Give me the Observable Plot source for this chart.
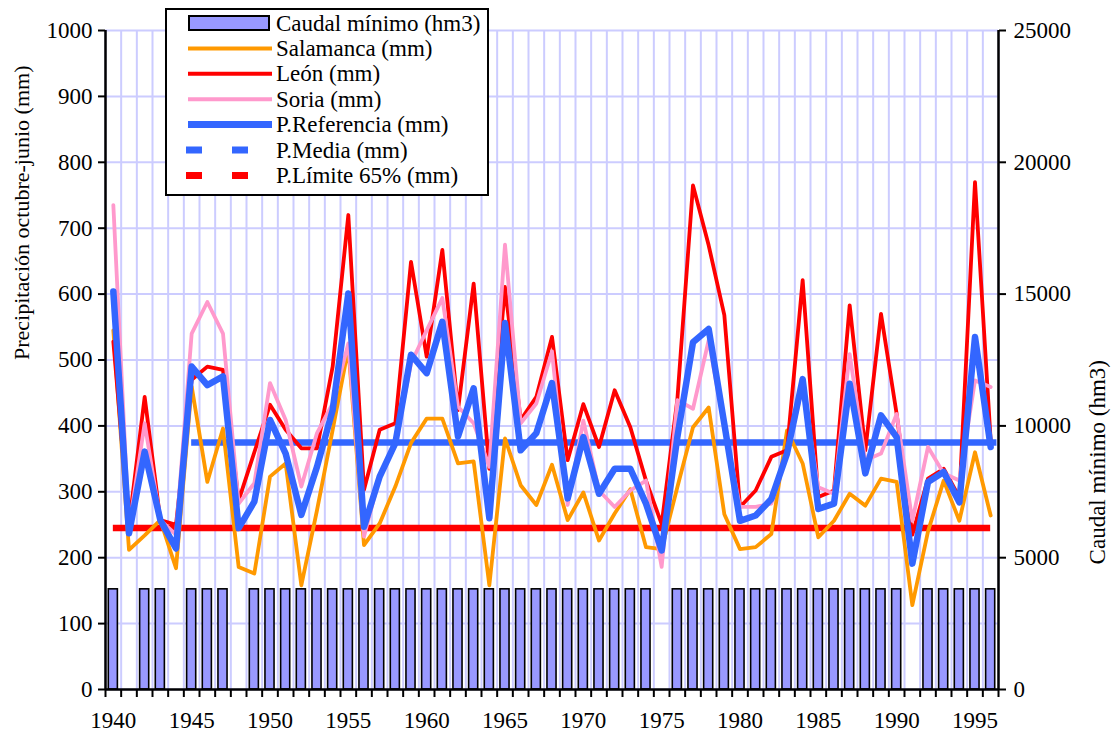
<!DOCTYPE html>
<html>
<head>
<meta charset="utf-8">
<script src="https://cdn.jsdelivr.net/npm/d3@7"></script>
<script src="https://cdn.jsdelivr.net/npm/@observablehq/plot@0.6"></script>
<style>
  html, body { margin: 0; padding: 0; background: white; }
  #wrap { position: relative; width: 1111px; height: 738px; font-family: 'Liberation Serif', 'DejaVu Serif', serif; }
  #wrap svg text { font-family: 'Liberation Serif', 'DejaVu Serif', serif; }
  #legend { position: absolute; left: 165px; top: 8px; width: 320px; height: 184px; border: 2.5px solid black; background: white; }
</style>
</head>
<body>
<div id="wrap"><div id="legend"></div></div>
<script>
const years = d3.range(1940, 1997);
const salamanca = [545,212,234,257,184,460,315,396,186,176,323,343,158,272,394,518,219,252,308,374,411,411,343,346,158,381,310,280,341,257,299,226,267,304,216,213,307,398,428,266,213,216,236,393,343,231,256,297,279,320,315,128,240,317,256,360,264];
const leon = [528,250,444,257,250,470,490,485,287,360,432,394,366,366,490,720,303,394,404,649,505,667,424,616,335,611,409,444,535,348,433,368,454,398,317,251,440,765,674,568,277,302,353,363,621,292,302,583,363,570,418,235,320,335,292,770,378];
const soria = [735,245,404,257,235,540,588,540,282,313,465,409,308,389,434,525,232,323,374,495,545,594,429,404,338,675,404,434,513,280,408,302,277,302,317,186,439,426,530,398,277,277,282,358,460,307,297,509,348,358,418,256,368,328,317,469,459];
const referencia = [604,237,361,257,214,490,462,475,245,285,409,358,265,338,424,601,247,323,374,508,480,558,384,457,260,556,363,389,465,290,383,297,335,335,282,211,383,527,547,403,256,264,289,358,471,274,282,464,328,416,383,191,315,330,284,535,368];
const caudal = [3800,0,3800,3800,0,3800,3800,3800,0,3800,3800,3800,3800,3800,3800,3800,3800,3800,3800,3800,3800,3800,3800,3800,3800,3800,3800,3800,3800,3800,3800,3800,3800,3800,3800,0,3800,3800,3800,3800,3800,3800,3800,3800,3800,3800,3800,3800,3800,3800,3800,0,3800,3800,3800,3800,3800];
const mediaYears = [1945, 1996];
const mediaValue = 375;
const limiteYears = [1940, 1996];
const limiteValue = 245;
const leftTicks = d3.range(0, 1001, 100);
const rightTicks = d3.range(0, 1001, 200);
const xLabelYears = d3.range(1940, 1996, 5);
const ratio = 25; // hm3 per mm on the secondary axis

const rows = years.map((year, i) => ({
  year, salamanca: salamanca[i], leon: leon[i], soria: soria[i], referencia: referencia[i], caudal: caudal[i]
}));
const bars = rows.filter(d => d.caudal > 0);
const boundaries = d3.range(years[0] - 0.5, years[years.length - 1] + 1, 1);
const FONT = "'Liberation Serif', 'DejaVu Serif', serif";

const chart = Plot.plot({
  width: 1111,
  height: 738,
  marginLeft: 105,
  marginRight: 113,
  marginTop: 30,
  marginBottom: 49,
  style: { fontFamily: FONT, fontSize: "23px", color: "black", background: "white" },
  x: { type: "linear", domain: [years[0] - 0.5, years[years.length - 1] + 0.5] },
  y: { domain: [0, 1000] },
  marks: [
    Plot.gridX(boundaries, { stroke: "#ccccff", strokeOpacity: 1, strokeWidth: 2 }),
    Plot.gridY(leftTicks, { stroke: "#ccccff", strokeOpacity: 1, strokeWidth: 2 }),
    Plot.rectY(bars, { x1: d => d.year - 0.29, x2: d => d.year + 0.29, y1: 0, y2: d => d.caudal / ratio, fill: "#9999ff", stroke: "black", strokeWidth: 1.6 }),
    Plot.ruleY([limiteValue], { x1: limiteYears[0], x2: limiteYears[1], stroke: "#ff0000", strokeWidth: 6.5 }),
    Plot.ruleY([mediaValue], { x1: mediaYears[0], x2: mediaYears[1] + 0.4, stroke: "#3366ff", strokeWidth: 6.5 }),
    Plot.line(rows, { x: "year", y: "salamanca", stroke: "#ff9900", strokeWidth: 3.8 }),
    Plot.line(rows, { x: "year", y: "leon", stroke: "#ff0000", strokeWidth: 3.8 }),
    Plot.line(rows, { x: "year", y: "soria", stroke: "#ff99cc", strokeWidth: 3.8 }),
    Plot.line(rows, { x: "year", y: "referencia", stroke: "#3366ff", strokeWidth: 6.5 }),
    Plot.ruleX([boundaries[0], boundaries[boundaries.length - 1]], { stroke: "black", strokeWidth: 2.5 }),
    Plot.ruleY([0], { stroke: "black", strokeWidth: 2.5 }),
    Plot.axisY({ anchor: "left", ticks: leftTicks, tickSize: 7, tickPadding: 6, strokeWidth: 2, label: null, fontFamily: FONT, tickFormat: d => String(d) }),
    Plot.axisY({ anchor: "right", ticks: rightTicks, tickSize: 7, tickPadding: 8, strokeWidth: 2, label: null, fontFamily: FONT, tickFormat: d => String(d * ratio) }),
    Plot.axisX({ ticks: boundaries, tickSize: 8, strokeWidth: 2, tickFormat: () => "", label: null }),
    Plot.axisX({ ticks: xLabelYears, tickSize: 0, tickPadding: 22, label: null, fontFamily: FONT, tickFormat: d => String(d) }),
    Plot.text(["Precipitación octubre-junio (mm)"], { frameAnchor: "left", rotate: -90, dx: -84, fontSize: 22, fontFamily: FONT, fill: "black" }),
    Plot.text(["Caudal mínimo (hm3)"], { frameAnchor: "right", rotate: -90, dx: 99, dy: 0, fontSize: 23, fontFamily: FONT, fill: "black" })
  ]
});
document.getElementById("wrap").insertBefore(chart, document.getElementById("legend"));

// Legend
const legendItems = [
  { label: "Caudal mínimo (hm3)", kind: "bar" },
  { label: "Salamanca (mm)", kind: "line", color: "#ff9900", w: 4 },
  { label: "León (mm)", kind: "line", color: "#ff0000", w: 4 },
  { label: "Soria (mm)", kind: "line", color: "#ff99cc", w: 4 },
  { label: "P.Referencia (mm)", kind: "line", color: "#3366ff", w: 7 },
  { label: "P.Media (mm)", kind: "dash", color: "#3366ff", w: 7 },
  { label: "P.Límite 65% (mm)", kind: "dash", color: "#ff0000", w: 7 }
];
const svg = d3.select("#legend").append("svg").attr("width", 320).attr("height", 184)
  .style("font-family", FONT).style("font-size", "23px");
legendItems.forEach((it, i) => {
  const cy = 13 + i * 25.4;
  if (it.kind === "bar") {
    svg.append("rect").attr("x", 22).attr("y", cy - 7).attr("width", 80).attr("height", 14)
      .attr("fill", "#9999ff").attr("stroke", "black").attr("stroke-width", 2);
  } else if (it.kind === "line") {
    svg.append("line").attr("x1", 21).attr("x2", 105).attr("y1", cy).attr("y2", cy)
      .attr("stroke", it.color).attr("stroke-width", it.w);
  } else {
    svg.append("line").attr("x1", 19).attr("x2", 83).attr("y1", cy).attr("y2", cy)
      .attr("stroke", it.color).attr("stroke-width", it.w).attr("stroke-dasharray", "16,30");
  }
  svg.append("text").attr("x", 109).attr("y", cy + 7.5).attr("fill", "black").attr("font-family", FONT).text(it.label);
});
</script>
</body>
</html>
